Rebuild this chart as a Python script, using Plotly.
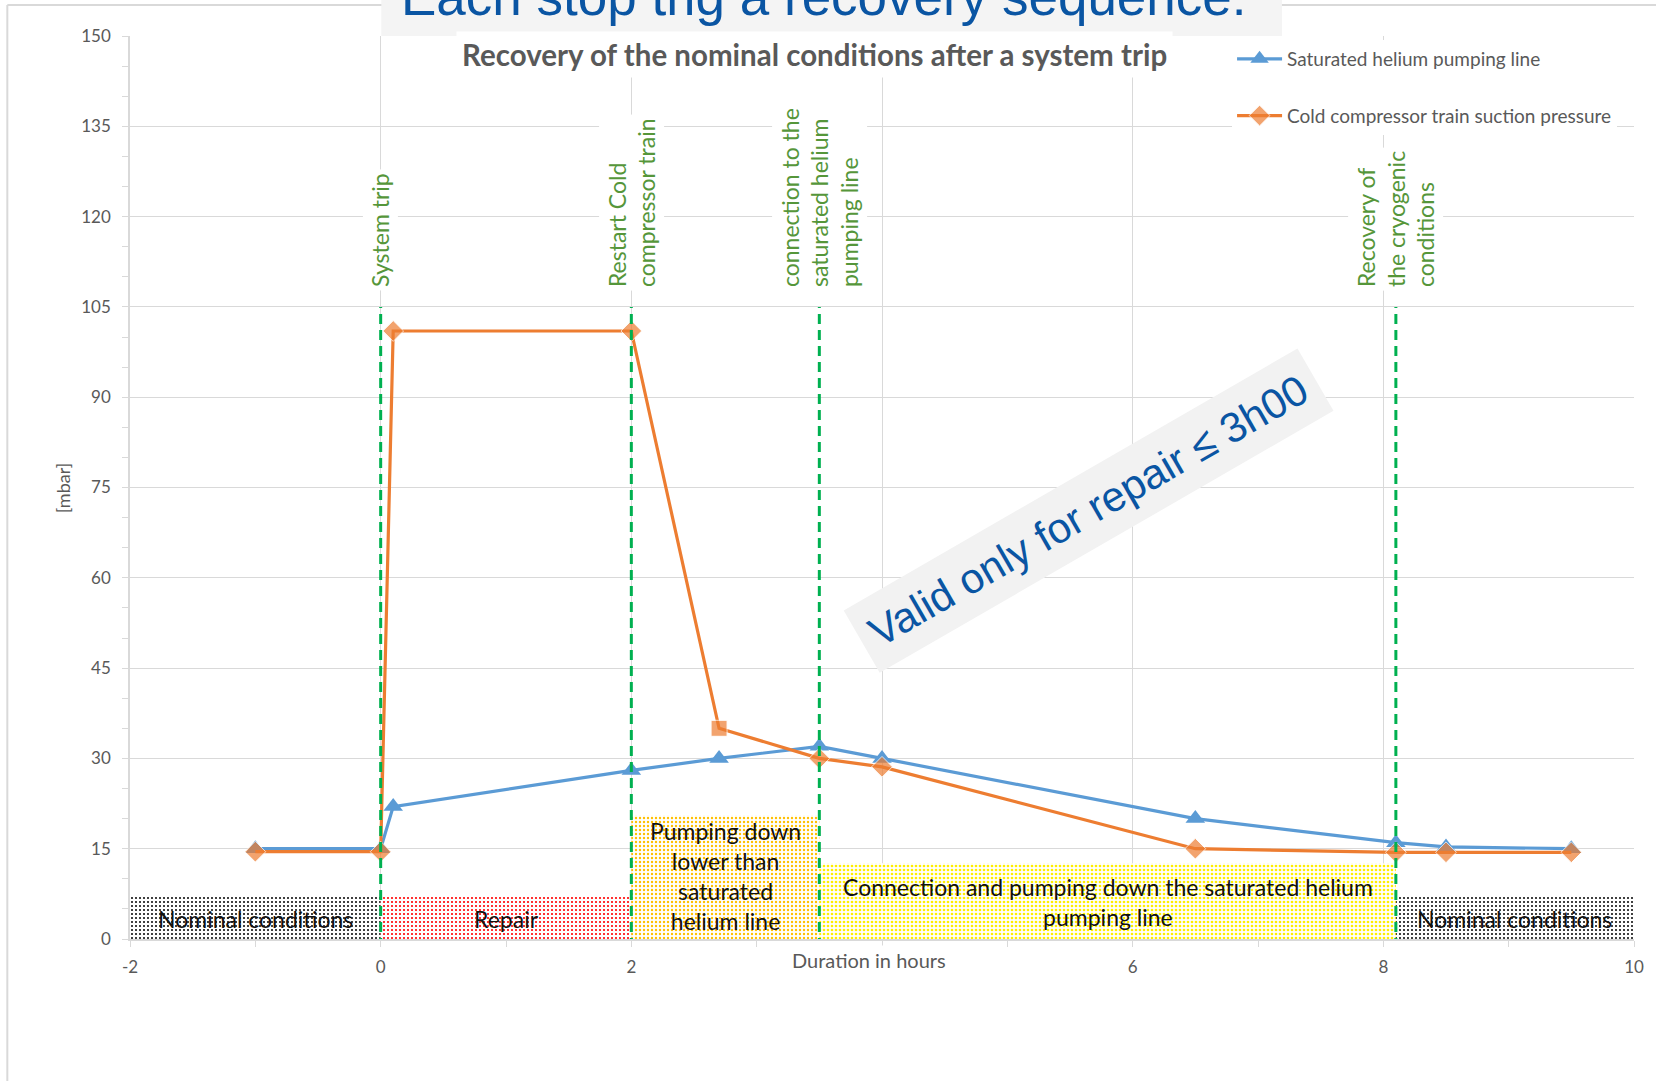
import plotly.graph_objects as go

# ---- data -------------------------------------------------------------
hours_sat = [-1, 0, 0.1, 2, 2.7, 3.5, 4, 6.5, 8.1, 8.5, 9.5]
sat_helium = [15, 15, 22, 28, 30, 32, 30, 20, 16, 15.3, 15]

hours_cc = [-1, 0, 0.1, 2, 2.7, 3.5, 4, 6.5, 8.1, 8.5, 9.5]
cc_suction = [14.5, 14.5, 101, 101, 35, 30, 28.6, 15, 14.4, 14.4, 14.4]

event_hours = [0, 2, 3.5, 8.1]
event_labels = [
    "System trip",
    "Restart Cold<br>compressor train",
    "connection to the<br>saturated helium<br>pumping line",
    "Recovery of<br>the cryogenic<br>conditions",
]

phase_start = [-2, 0, 2, 3.5, 8.1]
phase_end = [0, 2, 3.5, 8.1, 10]
phase_labels = [
    "Nominal conditions",
    "Repair",
    "Pumping down<br>lower than<br>saturated<br>helium line",
    "Connection and pumping down the saturated helium<br>pumping line",
    "Nominal conditions",
]

x_ticks = [-2, 0, 2, 4, 6, 8, 10]
x_tick_text = ["-2", "0", "2", "", "6", "8", "10"]
y_ticks = [0, 15, 30, 45, 60, 75, 90, 105, 120, 135, 150]

# ---- styling ----------------------------------------------------------
W, H = 1656, 1081
L, R, T, B = 130, 18, 36, 142
GRAY = "#595959"
GRID = "#d9d9d9"
BLUE = "#5b9bd5"
ORANGE = "#ed7d31"
GREEN_LINE = "#00b050"
GREEN_TXT = "#55963a"
FONT = "Lato"

phase_style = [
    dict(color="#000000", height=7, label_y=3.3, size=4, solidity=0.2),
    dict(color="#ff0000", height=7, label_y=3.3, size=4, solidity=0.22),
    dict(color="#ffc000", height=20.5, label_y=10.4, size=4, solidity=0.28),
    dict(color="#ffee00", height=12.6, label_y=6.1, size=4, solidity=0.35),
    dict(color="#000000", height=7, label_y=3.3, size=4, solidity=0.2),
]


def px_x(px):
    return (px - L) / (W - L - R)


def px_y(py):
    return 1 - (py - T) / (H - T - B)


fig = go.Figure()

# dotted phase bands along the time axis
for x0, x1, st in zip(phase_start, phase_end, phase_style):
    fig.add_trace(go.Scatter(
        x=[x0, x1, x1, x0, x0],
        y=[0, 0, st["height"], st["height"], 0],
        mode="lines", fill="toself",
        fillcolor="white",
        fillpattern=dict(shape=".", fgcolor=st["color"], bgcolor="white",
                         size=st["size"], solidity=st["solidity"],
                         fillmode="replace"),
        line=dict(width=0),
        showlegend=False, hoverinfo="skip",
    ))

fig.add_trace(go.Scatter(
    x=hours_sat, y=sat_helium, mode="lines+markers",
    name="Saturated helium pumping line", legendgroup="sat",
    line=dict(color=BLUE, width=3.2),
    marker=dict(symbol="triangle-up", size=17, color=BLUE),
))

cc_symbols = ["diamond"] * len(hours_cc)
cc_sizes = [16] * len(hours_cc)
cc_symbols[4] = "square"
cc_sizes[4] = 16
fig.add_trace(go.Scatter(
    x=hours_cc, y=cc_suction, mode="lines+markers",
    name="Cold compressor train suction pressure", legendgroup="cc",
    line=dict(color=ORANGE, width=3.2),
    marker=dict(symbol=cc_symbols, size=cc_sizes, color=ORANGE),
))

shapes = []
# outer chart frame (left + top edges)
shapes.append(dict(type="line", xref="paper", yref="paper",
                   x0=px_x(7), x1=px_x(7), y0=px_y(5), y1=px_y(H + 10),
                   line=dict(color=GRID, width=2), layer="above"))
shapes.append(dict(type="line", xref="paper", yref="paper",
                   x0=px_x(7), x1=px_x(W + 10), y0=px_y(5), y1=px_y(5),
                   line=dict(color=GRID, width=2), layer="above"))
# slide heading strip
shapes.append(dict(type="rect", xref="paper", yref="paper",
                   x0=px_x(382), x1=px_x(1285), y0=px_y(36), y1=px_y(-5),
                   fillcolor="#f4f4f4", line=dict(width=0), layer="above"))
# event markers
for xe in event_hours:
    shapes.append(dict(type="line", xref="x", yref="y",
                       x0=xe, x1=xe, y0=-1.5, y1=105,
                       line=dict(color=GREEN_LINE, width=3, dash="10px,6px"),
                       layer="above"))

annotations = []
annotations.append(dict(
    text="Each stop trig a recovery sequence:", xref="paper", yref="paper",
    x=px_x(826), y=px_y(-4), xanchor="center", yanchor="middle",
    showarrow=False, font=dict(family="Liberation Sans", size=53, color="#0a55a3"),
))
annotations.append(dict(
    text="<b>Recovery of the nominal conditions after a system trip</b>",
    xref="paper", yref="paper", x=px_x(816), y=px_y(54),
    xanchor="center", yanchor="middle", showarrow=False,
    bgcolor="white", borderpad=5,
    font=dict(family=FONT, size=29.5, color=GRAY),
))
annotations.append(dict(
    text="Duration in hours", xref="paper", yref="paper",
    x=px_x(871), y=px_y(960), xanchor="center", yanchor="middle",
    showarrow=False, bgcolor="white", borderpad=2,
    font=dict(family=FONT, size=20, color=GRAY),
))
annotations.append(dict(
    text="[mbar]", xref="paper", yref="paper",
    x=px_x(63), y=px_y(488), xanchor="center", yanchor="middle",
    textangle=-90, showarrow=False,
    font=dict(family=FONT, size=18, color=GRAY),
))
for xe, lab in zip(event_hours, event_labels):
    annotations.append(dict(
        text=lab, x=xe, y=107.6, xref="x", yref="y",
        xanchor="center", yanchor="bottom", textangle=-90, align="left",
        showarrow=False, bgcolor="white", borderpad=3,
        font=dict(family=FONT, size=23, color=GREEN_TXT),
    ))
for x0, x1, lab, st in zip(phase_start, phase_end, phase_labels, phase_style):
    annotations.append(dict(
        text=lab, x=(x0 + x1) / 2, y=st["label_y"], xref="x", yref="y",
        xanchor="center", yanchor="middle", showarrow=False,
        font=dict(family=FONT, size=23, color="#111111"),
    ))
annotations.append(dict(
    text="Valid only for repair \u2264 3h00", x=5.65, y=71.2, xref="x", yref="y",
    textangle=-30, showarrow=False, bgcolor="#f2f2f2", borderpad=12,
    font=dict(family="Liberation Sans", size=42, color="#0a55a3"),
))

fig.update_layout(
    width=W, height=H,
    margin=dict(l=L, r=R, t=T, b=B, pad=0),
    paper_bgcolor="white", plot_bgcolor="white",
    font=dict(family=FONT, color=GRAY, size=17),
    shapes=shapes, annotations=annotations,
    legend=dict(
        x=px_x(1235), y=px_y(40), xanchor="left", yanchor="top",
        bgcolor="white", traceorder="grouped", tracegroupgap=29,
        itemwidth=45, font=dict(family=FONT, size=19, color=GRAY),
    ),
    xaxis=dict(
        range=[-2, 10], tickvals=x_ticks, ticktext=x_tick_text,
        showgrid=True, gridcolor=GRID,
        zeroline=False, showline=True, linecolor=GRID, linewidth=1.5,
        ticks="outside", ticklen=6, tickcolor=GRID, ticklabelstandoff=6,
        tickfont=dict(family=FONT, size=17, color=GRAY),
        minor=dict(dtick=1, ticks="outside", ticklen=6, tickcolor=GRID, showgrid=False),
    ),
    yaxis=dict(
        range=[0, 150], tickvals=y_ticks, showgrid=True, gridcolor=GRID,
        zeroline=False, showline=True, linecolor=GRID, linewidth=1.5,
        ticks="outside", ticklen=6, tickcolor=GRID, ticklabelstandoff=8,
        tickfont=dict(family=FONT, size=17, color=GRAY),
        minor=dict(dtick=5, ticks="outside", ticklen=6, tickcolor=GRID, showgrid=False),
    ),
)

fig.write_html("out.html")
